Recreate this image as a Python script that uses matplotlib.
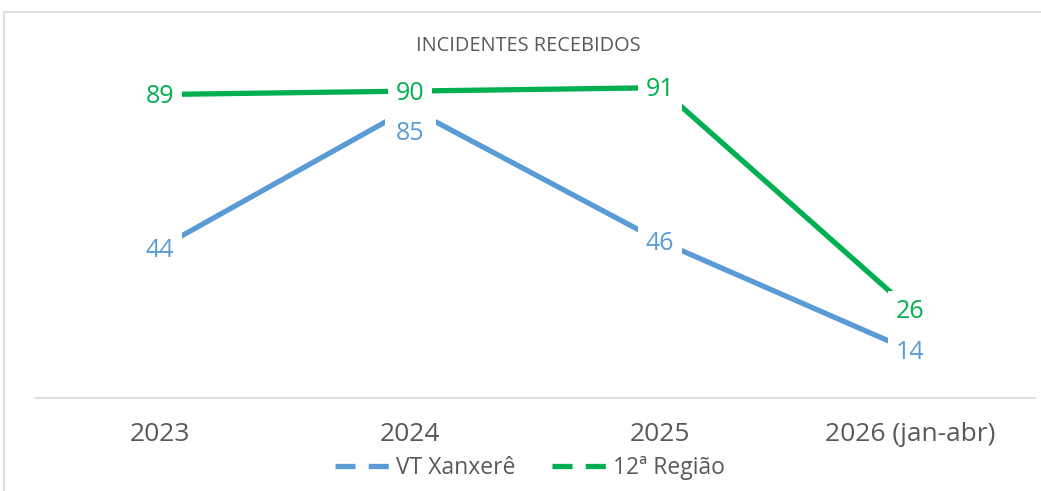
import matplotlib
matplotlib.use("Agg")
import matplotlib.pyplot as plt
from matplotlib.patches import Rectangle
from matplotlib.lines import Line2D

categories = ["2023", "2024", "2025", "2026 (jan-abr)"]
vt_xanxere = [44, 85, 46, 14]
regiao_12 = [89, 90, 91, 26]
series_names = ["VT Xanxerê", "12ª Região"]
title = "INCIDENTES RECEBIDOS"

BLUE = "#5B9BD5"
GREEN = "#00B050"
GRAY = "#595959"
FONT = ["Open Sans", "DejaVu Sans"]

fig = plt.figure(figsize=(10.41, 4.91), dpi=100)
fig.patch.set_facecolor("white")

# chart border
fig.patches.append(Rectangle((4/1041, -0.1), 1.2, 1 - 12/491 + 0.1,
                             transform=fig.transFigure, fill=False,
                             edgecolor="#D9D9D9", linewidth=1.2))

ax = fig.add_axes([35/1041, 1 - 398/491, 1000/1041, 341/491])
x = list(range(len(categories)))
ax.plot(x, vt_xanxere, color=BLUE, linewidth=3.8, solid_capstyle="butt", zorder=2)
ax.plot(x, regiao_12, color=GREEN, linewidth=3.8, solid_capstyle="butt", zorder=2)
ax.set_xlim(-0.5, len(categories) - 0.5)
ax.set_ylim(0, 100)

for s in ["top", "right", "left"]:
    ax.spines[s].set_visible(False)
ax.spines["bottom"].set_color("#D9D9D9")
ax.spines["bottom"].set_linewidth(1.2)
ax.set_yticks([])
ax.set_xticks(x)
ax.set_xticklabels(categories, fontsize=19, color=GRAY, family=FONT)
ax.tick_params(axis="x", length=0, pad=17)

bbox = dict(boxstyle="square,pad=0.3", facecolor="white", edgecolor="none")
bbox_big = dict(boxstyle="square,pad=0.45", facecolor="white", edgecolor="none")
for i, v in enumerate(vt_xanxere):
    off = -18.5 if i == 1 else -1.5
    ax.annotate(str(v), (i, v), xytext=(0, off), textcoords="offset points",
                ha="center", va="center", fontsize=18, color=BLUE,
                family=FONT, bbox=bbox_big if i == 1 else bbox, zorder=3)
for i, v in enumerate(regiao_12):
    ax.annotate(str(v), (i, v), xytext=(0, -1.5), textcoords="offset points",
                ha="center", va="center", fontsize=18, color=GREEN,
                family=FONT, bbox=bbox, zorder=4)

fig.text(528/1041, 1 - 46/491, title, ha="center", va="center",
         fontsize=14.3, color=GRAY, family=FONT)

dash = (0, (3.8, 2.5))
handles = [Line2D([], [], color=BLUE, linewidth=3.8, linestyle=dash),
           Line2D([], [], color=GREEN, linewidth=3.8, linestyle=dash)]
leg = fig.legend(handles, series_names, loc="center", bbox_to_anchor=(530/1041, 1 - 468/491),
                 ncol=2, frameon=False, handlelength=2.5, handletextpad=0.15,
                 columnspacing=1.6, prop={"family": FONT, "size": 16.5})
for t in leg.get_texts():
    t.set_color(GRAY)

fig.savefig("out.png", dpi=100, facecolor="white")
